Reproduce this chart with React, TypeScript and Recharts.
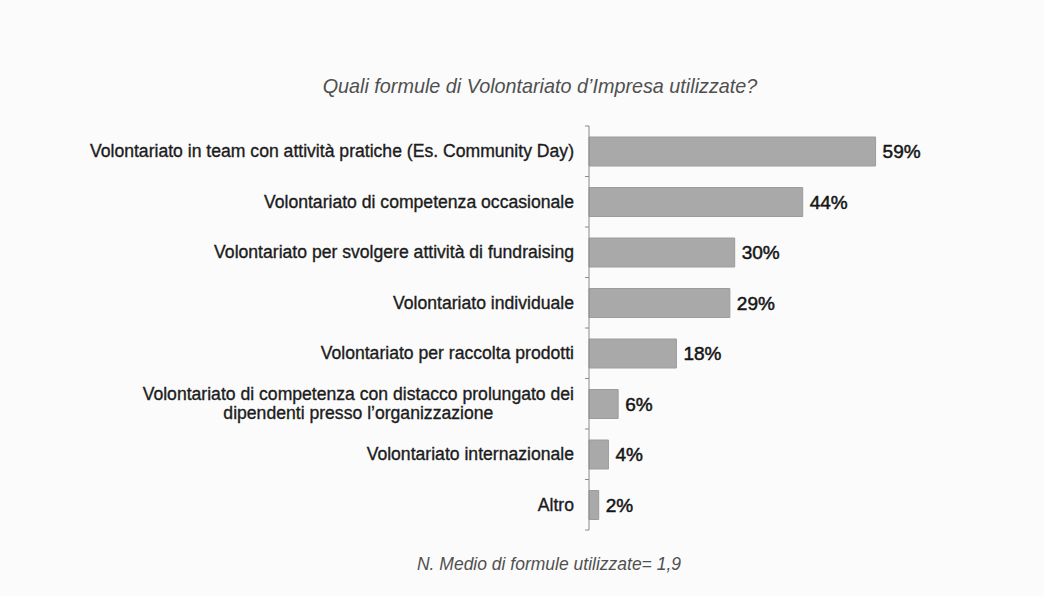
import { BarChart, Bar, XAxis, YAxis, LabelList } from 'recharts';

const categories = [
  'Volontariato in team con attività pratiche (Es. Community Day)',
  'Volontariato di competenza occasionale',
  'Volontariato per svolgere attività di fundraising',
  'Volontariato individuale',
  'Volontariato per raccolta prodotti',
  'Volontariato di competenza con distacco prolungato dei\ndipendenti presso l\u2019organizzazione',
  'Volontariato internazionale',
  'Altro',
];
const shares = [59, 44, 30, 29, 18, 6, 4, 2];

const title = 'Quali formule di Volontariato d\u2019Impresa utilizzate?';
const footnote = 'N. Medio di formule utilizzate= 1,9';

const rows = categories.map((name, i) => ({ name, value: shares[i] }));

const LABEL_FONT = "17.6px 'Liberation Sans', Arial, sans-serif";
const TICK_SIZE = 4;
const TICK_MARGIN = 11;

let measureCtx: CanvasRenderingContext2D | null = null;
function textWidth(s: string) {
  if (!measureCtx) measureCtx = document.createElement('canvas').getContext('2d');
  if (!measureCtx) return s.length * 8;
  measureCtx.font = LABEL_FONT;
  return measureCtx.measureText(s).width;
}

function CategoryTick(props: any) {
  const { x, y, payload, index } = props;
  const half = payload.offset ?? 25;
  const axisX = x + TICK_SIZE + TICK_MARGIN;
  const lines: string[] = String(payload.value).split('\n');
  const lineH = 19;
  const widest = Math.max(...lines.map(textWidth));
  const startY = y - ((lines.length - 1) * lineH) / 2;
  const isLast = index === categories.length - 1;
  return (
    <g>
      <line x1={axisX - TICK_SIZE} x2={axisX} y1={y - half} y2={y - half} stroke="#8a8a8a" />
      {isLast && <line x1={axisX - TICK_SIZE} x2={axisX} y1={y + half} y2={y + half} stroke="#8a8a8a" />}
      {lines.map((line, i) => (
        <text
          key={i}
          x={lines.length > 1 ? x - widest / 2 : x}
          y={startY + i * lineH}
          dy="0.35em"
          textAnchor={lines.length > 1 ? 'middle' : 'end'}
          fill="#1c1c1c"
          stroke="#1c1c1c"
          strokeWidth={0.35}
          style={{ font: LABEL_FONT }}
        >
          {line}
        </text>
      ))}
    </g>
  );
}

export default function App() {
  return (
    <div
      style={{
        position: 'absolute',
        left: 0,
        top: 0,
        width: 1044,
        height: 596,
        background: '#fbfbfb',
        fontFamily: "'Liberation Sans', Arial, sans-serif",
      }}
    >
      <div
        style={{
          position: 'absolute',
          top: 75,
          left: 0,
          width: 1080,
          textAlign: 'center',
          fontSize: 19.8,
          fontStyle: 'italic',
          color: '#505050',
        }}
      >
        {title}
      </div>
      <BarChart
        width={1044}
        height={596}
        data={rows}
        layout="vertical"
        margin={{ top: 126, right: 115, bottom: 66, left: 0 }}
      >
        <XAxis type="number" domain={[0, 70]} hide />
        <YAxis
          type="category"
          dataKey="name"
          width={589}
          axisLine={{ stroke: '#8a8a8a' }}
          tickLine={false}
          tickSize={TICK_SIZE}
          tickMargin={TICK_MARGIN}
          interval={0}
          tick={<CategoryTick />}
        />
        <Bar dataKey="value" barSize={29} fill="#a9a9a9" stroke="#9c9c9c" isAnimationActive={false}>
          <LabelList
            dataKey="value"
            position="right"
            offset={7}
            formatter={(v: any) => `${v}%`}
            style={{
              font: "19px 'Liberation Sans', Arial, sans-serif",
              fill: '#151515',
              stroke: '#151515',
              strokeWidth: 0.5,
            }}
          />
        </Bar>
      </BarChart>
      <div
        style={{
          position: 'absolute',
          top: 554,
          left: 0,
          width: 1098,
          textAlign: 'center',
          fontSize: 17.5,
          fontStyle: 'italic',
          color: '#505050',
        }}
      >
        {footnote}
      </div>
    </div>
  );
}
